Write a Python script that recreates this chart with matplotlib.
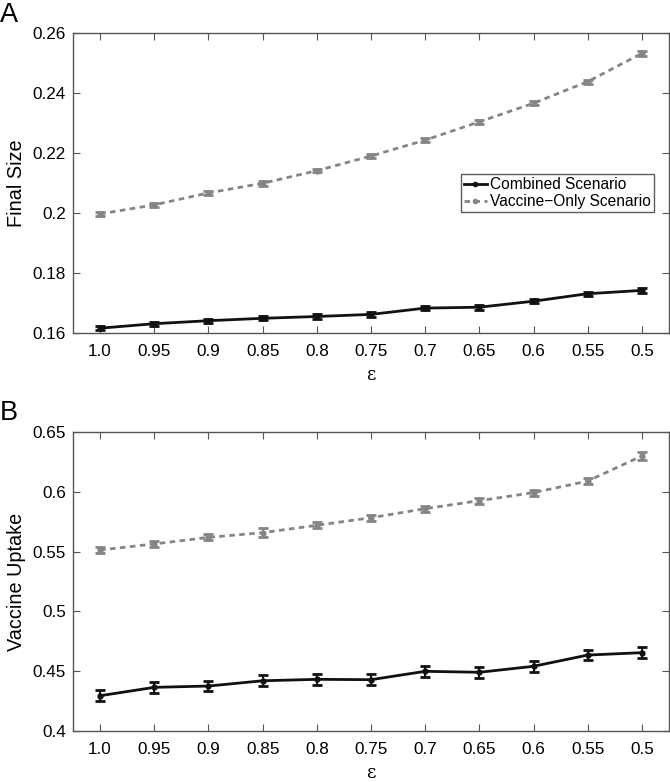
import matplotlib
matplotlib.use("Agg")
import matplotlib.pyplot as plt
from matplotlib.lines import Line2D
import numpy as np

plt.rcParams['font.family'] = ['Liberation Sans', 'DejaVu Sans']

# x categories (epsilon)
eps_labels = ['1.0', '0.95', '0.9', '0.85', '0.8', '0.75', '0.7', '0.65', '0.6', '0.55', '0.5']

# Panel A: final size
size_combined = [0.1616, 0.1631, 0.1641, 0.1649, 0.1655, 0.1662, 0.1683, 0.1686, 0.1706, 0.1731, 0.1742]
size_combined_err = [0.0007, 0.0007, 0.0007, 0.0007, 0.0007, 0.0007, 0.0007, 0.0008, 0.0007, 0.0007, 0.0007]
size_vaccine = [0.1997, 0.2027, 0.2067, 0.2099, 0.2141, 0.2190, 0.2243, 0.2304, 0.2366, 0.2438, 0.2532]
size_vaccine_err = [0.0006, 0.0006, 0.0006, 0.0009, 0.0006, 0.0006, 0.0006, 0.0006, 0.0006, 0.0007, 0.0007]

# Panel B: vaccine uptake
uptake_combined = [0.4295, 0.4365, 0.4376, 0.4420, 0.4432, 0.4429, 0.4499, 0.4491, 0.4541, 0.4635, 0.4655]
uptake_combined_err = [0.0045, 0.0045, 0.0045, 0.0047, 0.0045, 0.0047, 0.0045, 0.0047, 0.0045, 0.0045, 0.0045]
uptake_vaccine = [0.5513, 0.5564, 0.5619, 0.5658, 0.5720, 0.5783, 0.5859, 0.5926, 0.5993, 0.6090, 0.6300]
uptake_vaccine_err = [0.0025, 0.0028, 0.0025, 0.0040, 0.0025, 0.0025, 0.0025, 0.0025, 0.0025, 0.0028, 0.0030]

x = np.arange(len(eps_labels))
black = '#111111'
grey = '#858585'
axis_col = '#555555'
dots = (0, (2, 1.6))

fig = plt.figure(figsize=(6.7, 7.82), dpi=100)
axA = fig.add_axes([73/670, 1-333/782, 596/670, 300/782])
axB = fig.add_axes([73/670, 1-731/782, 596/670, 299/782])


def draw(ax, comb, comb_err, vac, vac_err, ylim, yticks, ytlabels, ylabel):
    ax.errorbar(x, comb, yerr=comb_err, color=black, lw=2, marker='o', ms=3.5,
                capsize=3.6, capthick=2, elinewidth=1.5)
    ax.errorbar(x, vac, yerr=vac_err, color=grey, lw=2, ls=dots, marker='o', ms=3.5,
                capsize=3.6, capthick=2, elinewidth=1.5)
    ax.set_xlim(-0.5, 10.5)
    ax.set_ylim(*ylim)
    ax.set_xticks(x)
    ax.set_xticklabels(eps_labels)
    ax.set_yticks(yticks)
    ax.set_yticklabels(ytlabels)
    ax.tick_params(direction='in', top=True, right=True, labelsize=12.3, length=5,
                   color=axis_col)
    ax.tick_params(axis='x', pad=8)
    ax.tick_params(axis='y', pad=5)
    for s in ax.spines.values():
        s.set_color(axis_col)
        s.set_linewidth(1)
    ax.set_xlabel('\u03b5', fontsize=13, family='DejaVu Serif', labelpad=5)
    ax.set_ylabel(ylabel, fontsize=14.3, labelpad=5)


draw(axA, size_combined, size_combined_err, size_vaccine, size_vaccine_err,
     (0.16, 0.26), [0.16, 0.18, 0.2, 0.22, 0.24, 0.26],
     ['0.16', '0.18', '0.2', '0.22', '0.24', '0.26'], 'Final Size')
draw(axB, uptake_combined, uptake_combined_err, uptake_vaccine, uptake_vaccine_err,
     (0.4, 0.65), [0.4, 0.45, 0.5, 0.55, 0.6, 0.65],
     ['0.4', '0.45', '0.5', '0.55', '0.6', '0.65'], 'Vaccine Uptake')

handles = [Line2D([], [], color=black, lw=2, marker='o', ms=3),
           Line2D([], [], color=grey, lw=2, ls=dots, marker='o', ms=3)]
leg = axA.legend(handles, ['Combined Scenario', 'Vaccine\u2212Only Scenario'],
                 loc='upper left', bbox_to_anchor=((461-73)/596, (333-174)/300), fontsize=11.2,
                 frameon=True, fancybox=False, edgecolor='#333333', handlelength=1.45,
                 handletextpad=0.2, borderpad=0.2, labelspacing=0.12, borderaxespad=0)
leg.get_frame().set_linewidth(1)

fig.text(0/670, 1-2/782, 'A', fontsize=19.5, va='top', ha='left')
fig.text(0/670, 1-400/782, 'B', fontsize=19.5, va='top', ha='left')

fig.savefig('out.png', dpi=100)
